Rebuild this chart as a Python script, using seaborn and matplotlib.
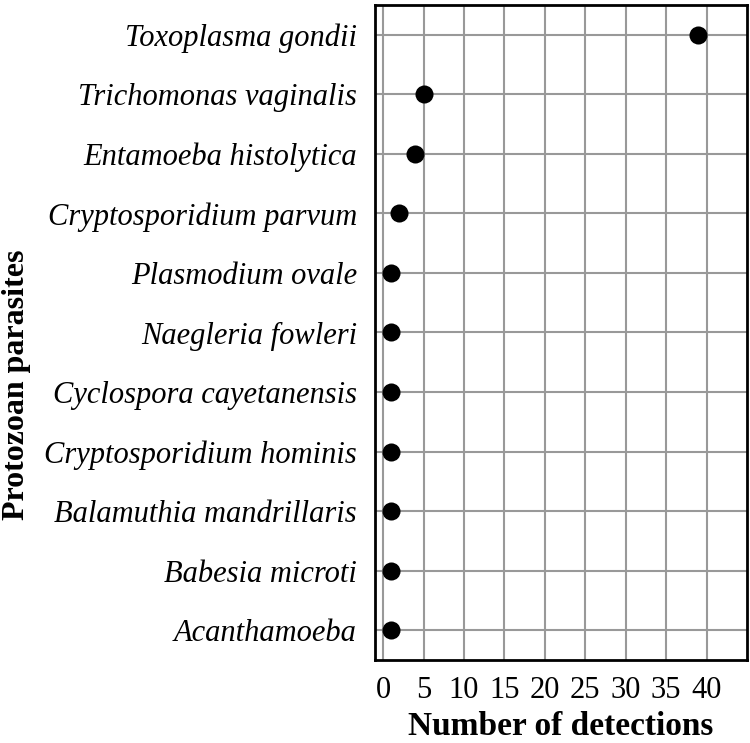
import pandas as pd
import matplotlib
matplotlib.use('Agg')
import matplotlib.pyplot as plt
import seaborn as sns

# 데이터
parasites = [
    'Toxoplasma gondii', 'Trichomonas vaginalis', 'Entamoeba histolytica',
    'Cryptosporidium parvum', 'Plasmodium ovale', 'Naegleria fowleri',
    'Cyclospora cayetanensis', 'Cryptosporidium hominis',
    'Balamuthia mandrillaris', 'Babesia microti', 'Acanthamoeba',
]
detections = [39, 5, 4, 2, 1, 1, 1, 1, 1, 1, 1]
x_ticks = [0, 5, 10, 15, 20, 25, 30, 35, 40]

df = pd.DataFrame({'parasite': parasites, 'detections': detections})

sns.set_style('white', rc={'text.color': 'black', 'axes.labelcolor': 'black',
                           'xtick.color': 'black', 'ytick.color': 'black'})
plt.rcParams['font.family'] = ['Liberation Serif', 'DejaVu Serif']

fig = plt.figure(figsize=(7.5, 7.43), dpi=100)
ax = fig.add_axes([0.5, 0.112, 0.496, 0.881])

sns.stripplot(data=df, x='detections', y='parasite', order=parasites,
              jitter=False, color='black', size=13, linewidth=0, ax=ax, zorder=3)

ax.set_xlim(-1, 45)
ax.set_ylim(len(parasites) - 0.5, -0.5)
ax.set_xticks(x_ticks)
ax.grid(True, color='#999999', linewidth=1.5, zorder=0)
ax.set_axisbelow(True)
for s in ax.spines.values():
    s.set_color('black')
    s.set_linewidth(2)

ax.tick_params(axis='x', labelsize=22, length=0, pad=12)
ax.tick_params(axis='y', labelsize=22, length=0, pad=13)
for lbl in ax.get_yticklabels():
    lbl.set_fontstyle('italic')

ax.set_xlabel('Number of detections', fontsize=24, fontweight='bold', labelpad=4)
ax.set_ylabel('Protozoan parasites', fontsize=23, fontweight='bold')
ax.yaxis.set_label_coords(-0.925, 0.42)

plt.savefig('out.png', dpi=100, facecolor='white')
plt.close()
